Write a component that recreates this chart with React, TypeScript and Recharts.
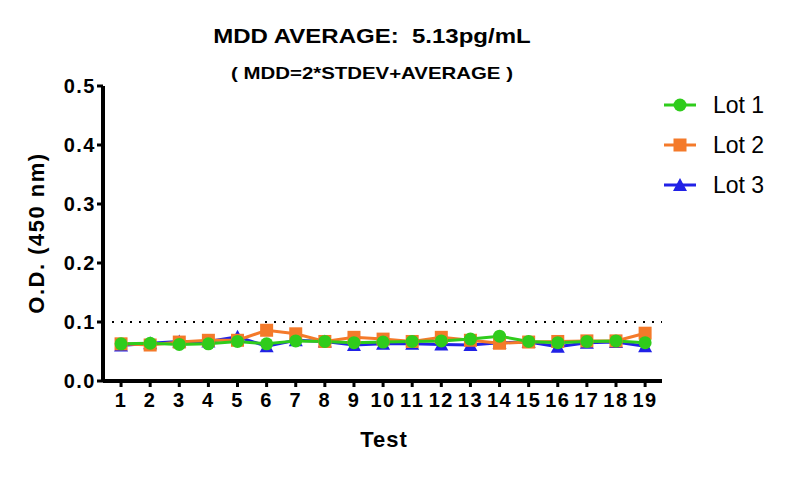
import React from 'react';
import { LineChart, Line, XAxis, YAxis, ReferenceLine } from 'recharts';

// values
const TESTS = [1, 2, 3, 4, 5, 6, 7, 8, 9, 10, 11, 12, 13, 14, 15, 16, 17, 18, 19];
const LOT1 = [0.063, 0.064, 0.062, 0.063, 0.067, 0.063, 0.068, 0.067, 0.065, 0.066, 0.067, 0.068, 0.071, 0.076, 0.067, 0.065, 0.067, 0.068, 0.065];
const LOT2 = [0.063, 0.061, 0.066, 0.069, 0.069, 0.086, 0.080, 0.067, 0.074, 0.071, 0.067, 0.074, 0.069, 0.064, 0.066, 0.067, 0.068, 0.068, 0.081];
const LOT3 = [0.060, 0.064, 0.067, 0.067, 0.075, 0.059, 0.069, 0.067, 0.061, 0.063, 0.063, 0.062, 0.061, 0.065, 0.066, 0.058, 0.065, 0.066, 0.059];
const Y_TICKS = [0, 0.1, 0.2, 0.3, 0.4, 0.5];
const MDD_LINE = 0.1;

const SERIES = [
  { key: 'lot1', name: 'Lot 1', color: '#2fcc1c', shape: 'circle' },
  { key: 'lot2', name: 'Lot 2', color: '#f47a2a', shape: 'square' },
  { key: 'lot3', name: 'Lot 3', color: '#2121e6', shape: 'triangle' },
];

const data = TESTS.map((t, i) => ({ test: t, lot1: LOT1[i], lot2: LOT2[i], lot3: LOT3[i] }));

const FONT = 'Arial, "Liberation Sans", sans-serif';

const Marker = ({ shape, cx, cy, color }: { shape: string; cx: number; cy: number; color: string }) => {
  if (shape === 'circle') return <circle cx={cx} cy={cy} r={6.5} fill={color} />;
  if (shape === 'square') return <rect x={cx - 6.5} y={cy - 6.5} width={13} height={13} fill={color} />;
  return <path d={`M${cx},${cy - 7} L${cx + 7},${cy + 6} L${cx - 7},${cy + 6} Z`} fill={color} />;
};

const makeDot = (shape: string, color: string) => (props: any) => {
  const { cx, cy, index } = props;
  if (cx == null || cy == null) return <g key={index} />;
  return <Marker key={index} shape={shape} cx={cx} cy={cy} color={color} />;
};

const YTick = (props: any) => {
  const { x, y, payload } = props;
  return (
    <text x={x} y={y} dy="0.355em" textAnchor="end" fill="#000" fontSize={20} fontWeight="bold" fontFamily={FONT} letterSpacing={1.5}>
      {Number(payload.value).toFixed(1)}
    </text>
  );
};

const XTick = (props: any) => {
  const { x, y, payload } = props;
  return (
    <text x={x} y={y} dy="0.71em" textAnchor="middle" fill="#000" fontSize={20} fontWeight="bold" fontFamily={FONT} letterSpacing={1.5}>
      {payload.value}
    </text>
  );
};

const LegendBox = () => (
  <svg width={130} height={120} style={{ position: 'absolute', left: 660, top: 90 }}>
    {SERIES.map((s, i) => {
      const y = 15 + i * 40;
      return (
        <g key={s.key}>
          <line x1={4} x2={36} y1={y} y2={y} stroke={s.color} strokeWidth={3} />
          <Marker shape={s.shape} cx={20} cy={y} color={s.color} />
          <text x={53} y={y} dy="0.36em" fontSize={23} fontFamily={FONT} fill="#000">
            {s.name}
          </text>
        </g>
      );
    })}
  </svg>
);

export default function App() {
  const axisLine = { stroke: '#000', strokeWidth: 4 };
  const tickLine = { stroke: '#000', strokeWidth: 3 };
  const stretched = { transform: 'scaleX(1.2)', transformOrigin: '372px 0' };
  return (
    <div style={{ position: 'absolute', left: 0, top: 0, width: 789, height: 477, background: '#fff', fontFamily: FONT }}>
      <div style={{ position: 'absolute', left: 0, width: 744, top: 24, textAlign: 'center', fontSize: 20, fontWeight: 'bold', lineHeight: '24px', ...stretched }}>
        MDD AVERAGE:&nbsp; 5.13pg/mL
      </div>
      <div style={{ position: 'absolute', left: 0, width: 744, top: 64, textAlign: 'center', fontSize: 17, fontWeight: 'bold', lineHeight: '20px', ...stretched }}>
        ( MDD=2*STDEV+AVERAGE )
      </div>
      <LineChart width={789} height={477} data={data} margin={{ top: 86, right: 127, bottom: 36, left: 43 }}>
        <XAxis
          dataKey="test"
          type="number"
          domain={[0.38, 19.58]}
          ticks={TESTS}
          interval={0}
          allowDataOverflow
          height={60}
          axisLine={axisLine}
          tickLine={tickLine}
          tickSize={6}
          tickMargin={6}
          tick={<XTick />}
        />
        <YAxis
          type="number"
          domain={[0, 0.5]}
          ticks={Y_TICKS}
          interval={0}
          width={60}
          axisLine={axisLine}
          tickLine={tickLine}
          tickSize={6}
          tickMargin={1}
          tick={<YTick />}
        />
        <ReferenceLine y={MDD_LINE} stroke="#000" strokeWidth={2} strokeDasharray="2 7" />
        {[...SERIES].reverse().map((s) => (
          <Line
            key={s.key}
            dataKey={s.key}
            name={s.name}
            stroke={s.color}
            strokeWidth={3}
            dot={makeDot(s.shape, s.color)}
            activeDot={false}
            isAnimationActive={false}
          />
        ))}
      </LineChart>
      <LegendBox />
      <div style={{ position: 'absolute', left: 284, width: 200, top: 427, textAlign: 'center', fontSize: 22, fontWeight: 'bold', letterSpacing: 1, lineHeight: '26px' }}>
        Test
      </div>
      <div
        style={{
          position: 'absolute',
          left: 37 - 100,
          top: 233 - 13,
          width: 200,
          textAlign: 'center',
          fontSize: 22,
          fontWeight: 'bold',
          letterSpacing: 1.5,
          lineHeight: '26px',
          transform: 'rotate(-90deg)',
        }}
      >
        O.D. (450 nm)
      </div>
    </div>
  );
}
